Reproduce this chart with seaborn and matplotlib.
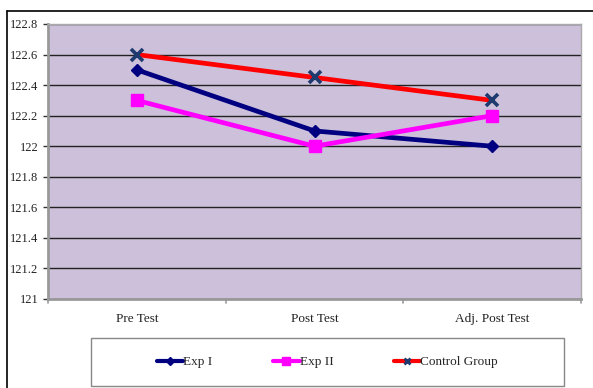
import matplotlib
matplotlib.use("Agg")
import matplotlib.pyplot as plt
import seaborn as sns
import pandas as pd
from matplotlib.patches import Rectangle
from matplotlib.lines import Line2D

stages = ["Pre Test", "Post Test", "Adj. Post Test"]
exp1 = [122.5, 122.1, 122.0]
exp2 = [122.3, 122.0, 122.2]
control = [122.6, 122.45, 122.3]
series_names = ["Exp I", "Exp II", "Control Group"]
y_ticks = [121, 121.2, 121.4, 121.6, 121.8, 122, 122.2, 122.4, 122.6, 122.8]
y_tick_labels = ["121", "121.2", "121.4", "121.6", "121.8", "122", "122.2", "122.4", "122.6", "122.8"]

rows = []
for name, vals in zip(series_names, [exp1, exp2, control]):
    for i, (s, v) in enumerate(zip(stages, vals)):
        rows.append({"stage": s, "pos": i, "score": v, "group": name})
df = pd.DataFrame(rows)

sns.set_theme(style="white")
plt.rcParams["font.family"] = ["Liberation Serif", "DejaVu Serif"]

fig = plt.figure(figsize=(5.93, 3.88), dpi=100)
ax = fig.add_axes([48 / 593, 1 - 299 / 388, 533 / 593, 275 / 388])
ax.set_facecolor("#CCC0DA")

line_colors = {"Exp I": "#000080", "Exp II": "#FF00FF", "Control Group": "#FF0000"}

for name in series_names:
    sub = df[df["group"] == name]
    sns.lineplot(data=sub, x="pos", y="score", ax=ax, color=line_colors[name],
                 linewidth=3.4, legend=False, zorder=3)
for name, mk, msize, mcolor in [("Exp I", "D", 6, "#000080"),
                                ("Exp II", "s", 9, "#FF00FF"),
                                ("Control Group", "x", 8.5, "#1F3A6E")]:
    sub = df[df["group"] == name]
    ax.plot(sub["pos"], sub["score"], linestyle="none", marker=mk, markersize=msize,
            color=mcolor, markeredgewidth=2.6 if mk == "x" else 1, zorder=4)

ax.set_xlim(-0.5, 2.5)
ax.set_ylim(121, 122.8)
ax.set_yticks(y_ticks)
ax.set_yticklabels(y_tick_labels, fontsize=9, color="#222222")
ax.set_xticks([0, 1, 2])
ax.set_xticklabels(stages, fontsize=9.5, color="#222222")
ax.tick_params(axis="x", length=0, pad=10)
ax.tick_params(axis="y", length=3.5, width=1, color="#333333", left=True, pad=3.5)
# boundary tick marks between categories
for xb in [-0.5, 0.5, 1.5, 2.5]:
    ax.plot([xb, xb], [0, -0.015], transform=ax.get_xaxis_transform(),
            color="#999999", lw=1.2, clip_on=False)
ax.set_xlabel("")
ax.set_ylabel("")
ax.grid(axis="y", color="#222222", linewidth=1)
ax.set_axisbelow(True)
for side in ["left", "bottom"]:
    ax.spines[side].set_color("#999999")
    ax.spines[side].set_linewidth(2)
for side in ["top", "right"]:
    ax.spines[side].set_color("#aaaaaa")
    ax.spines[side].set_linewidth(1)

# outer frame of the chart area
fig.add_artist(Line2D([7 / 593, 1.0], [1 - 11 / 388] * 2, color="black", lw=1.2,
                      transform=fig.transFigure))
fig.add_artist(Line2D([7 / 593] * 2, [0, 1 - 11 / 388], color="black", lw=1.2,
                      transform=fig.transFigure))

handles = [
    Line2D([], [], color="#000080", lw=3, marker="D", markersize=4),
    Line2D([], [], color="#FF00FF", lw=3, marker="s", markersize=6),
    Line2D([], [], color="#FF0000", lw=3, marker="x", markersize=5,
           markeredgecolor="#1F3A6E", markeredgewidth=2),
]
leg = fig.legend(handles, series_names, loc="center", ncol=3,
                 bbox_to_anchor=(91 / 593, 1 - 386 / 388, 473 / 593, 48 / 388),
                 fontsize=9.5, frameon=False, handlelength=2.0,
                 handletextpad=0.0, columnspacing=4.6, borderaxespad=0)
fig.add_artist(Rectangle((91 / 593, 1 - 386 / 388), 473 / 593, 48 / 388,
                         transform=fig.transFigure, fill=False,
                         edgecolor="#888888", lw=1))

fig.savefig("out.png", dpi=100)
